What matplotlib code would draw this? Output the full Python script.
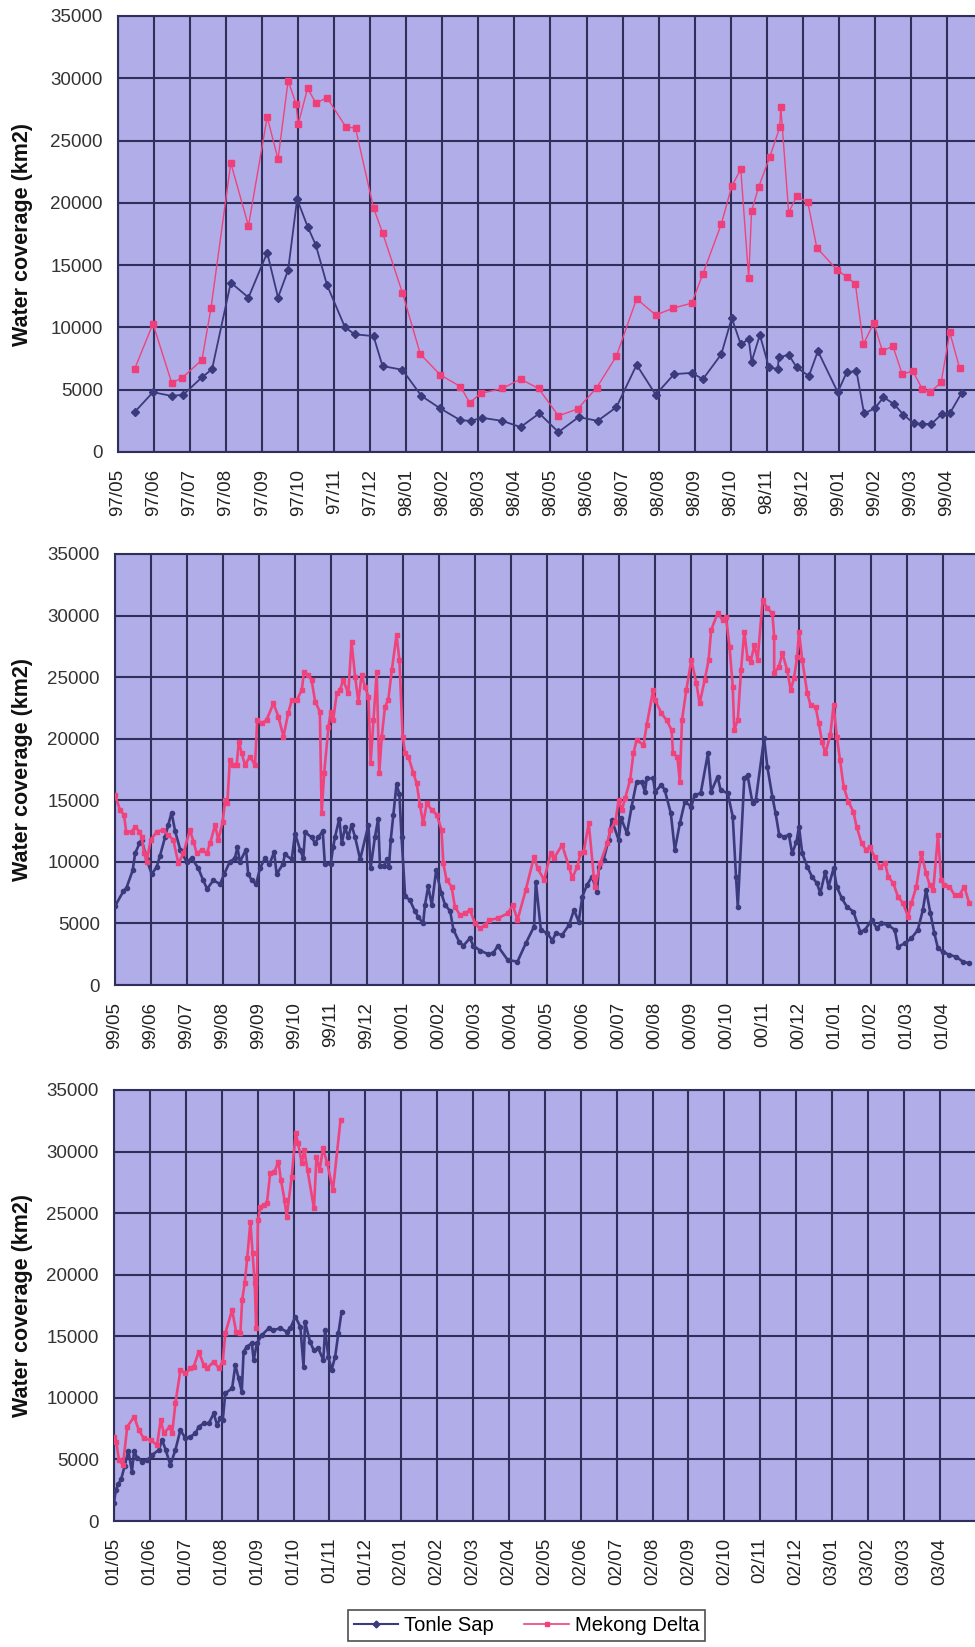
import matplotlib
matplotlib.use("Agg")
import matplotlib.pyplot as plt
from matplotlib.lines import Line2D
import numpy as np

# x positions are months counted from the first tick of each panel
# panel 1: 97/05 - 99/04
ts1_x = [0.46, 0.97, 1.49, 1.81, 2.33, 2.61, 3.13, 3.62, 4.14, 4.44,
         4.72, 4.97, 5.26, 5.49, 5.80, 6.30, 6.57, 7.09, 7.34, 7.89,
         8.42, 8.94, 9.50, 9.79, 10.09, 10.66, 11.17, 11.69, 12.22, 12.78,
         13.31, 13.83, 14.39, 14.92, 15.43, 15.92, 16.23, 16.74, 17.03, 17.28,
         17.5, 17.58, 17.81, 18.06, 18.31, 18.33, 18.61, 18.83, 19.17, 19.42,
         19.97, 20.22, 20.49, 20.70, 21.0, 21.24, 21.53, 21.79, 22.08, 22.32,
         22.57, 22.86, 23.08, 23.41]
ts1_y = [3200, 4800, 4500, 4600, 6000, 6650, 13600, 12400, 16000, 12400,
         14600, 20300, 18100, 16600, 13400, 10000, 9450, 9300, 6900, 6600,
         4500, 3500, 2550, 2500, 2750, 2500, 2000, 3100, 1600, 2800,
         2500, 3600, 7000, 4600, 6250, 6350, 5850, 7850, 10750, 8650,
         9050, 7250, 9400, 6800, 6650, 7600, 7800, 6800, 6100, 8100,
         4800, 6400, 6500, 3100, 3500, 4400, 3850, 3000, 2300, 2250,
         2250, 3050, 3100, 4750]
md1_x = [0.46, 0.97, 1.49, 1.78, 2.33, 2.58, 3.13, 3.62, 4.14, 4.44,
         4.72, 4.94, 5.0, 5.26, 5.49, 5.80, 6.32, 6.59, 7.09, 7.34,
         7.89, 8.39, 8.94, 9.50, 9.76, 10.06, 10.66, 11.17, 11.67, 12.22,
         12.75, 13.28, 13.83, 14.39, 14.92, 15.41, 15.92, 16.23, 16.74, 17.03,
         17.28, 17.5, 17.58, 17.78, 18.08, 18.36, 18.39, 18.61, 18.83, 19.14,
         19.39, 19.94, 20.22, 20.46, 20.68, 20.97, 21.21, 21.50, 21.76, 22.05,
         22.32, 22.54, 22.84, 23.08, 23.35]
md1_y = [6650, 10300, 5550, 5950, 7400, 11550, 23200, 18150, 26900, 23500,
         29800, 27950, 26300, 29200, 28000, 28450, 26100, 26000, 19600, 17600,
         12800, 7850, 6200, 5250, 3950, 4700, 5100, 5850, 5100, 2900,
         3450, 5150, 7700, 12300, 11000, 11550, 11950, 14300, 18300, 21350,
         22700, 13950, 19350, 21300, 23650, 26050, 27700, 19200, 20550, 20050,
         16400, 14650, 14050, 13500, 8650, 10350, 8100, 8500, 6250, 6500,
         5050, 4800, 5600, 9600, 6750]

# panel 2: 99/05 - 01/04
ts2_x = [0.00, 0.23, 0.32, 0.49, 0.56, 0.68, 0.74, 0.88, 1.02, 1.16, 1.25, 1.39, 1.48, 1.57, 1.67,
         1.81, 1.99, 2.13, 2.31, 2.45, 2.56, 2.73, 2.92, 3.03, 3.19, 3.33, 3.40, 3.47, 3.64, 3.70,
         3.80, 3.92, 4.03, 4.17, 4.29, 4.42, 4.49, 4.66, 4.72, 4.91, 5.00, 5.14, 5.23, 5.28, 5.46,
         5.56, 5.65, 5.77, 5.83, 5.99, 6.06, 6.11, 6.23, 6.30, 6.39, 6.48, 6.57, 6.67, 6.81, 7.04,
         7.10, 7.22, 7.31, 7.36, 7.47, 7.55, 7.61, 7.66, 7.73, 7.82, 7.90, 7.96, 8.06, 8.19, 8.33,
         8.43, 8.56, 8.61, 8.70, 8.80, 8.92, 9.06, 9.17, 9.31, 9.40, 9.56, 9.68, 9.86, 9.95, 10.14,
         10.37, 10.51, 10.63, 10.91, 11.18, 11.41, 11.64, 11.69, 11.83, 12.01, 12.15, 12.24, 12.42,
         12.61, 12.75, 12.88, 12.98, 13.11, 13.25, 13.39, 13.44, 13.57, 13.71, 13.80, 13.99, 14.06,
         14.22, 14.35, 14.49, 14.63, 14.72, 14.77, 14.95, 15.00, 15.18, 15.27, 15.44, 15.55, 15.69,
         15.83, 16.01, 16.10, 16.27, 16.47, 16.56, 16.74, 16.82, 17.02, 17.16, 17.25, 17.30, 17.48,
         17.57, 17.71, 17.80, 18.03, 18.12, 18.26, 18.35, 18.45, 18.58, 18.72, 18.81, 18.93, 19.00,
         19.09, 19.23, 19.36, 19.50, 19.59, 19.73, 19.82, 19.96, 20.05, 20.19, 20.33, 20.51, 20.70,
         20.83, 21.02, 21.16, 21.29, 21.48, 21.66, 21.75, 21.94, 22.12, 22.30, 22.44, 22.53, 22.65,
         22.76, 22.86, 22.99, 23.18, 23.36, 23.55, 23.73]
ts2_y = [6400, 7600, 7900, 9300, 10700, 11500, 11800, 10200, 9000, 9600, 10500, 12000, 13000, 14000, 12500,
         11000, 10000, 10300, 9500, 8500, 7800, 8500, 8200, 9000, 10000, 10300, 11200, 10000, 11000, 9000,
         8500, 8200, 9500, 10300, 9800, 10800, 9000, 9800, 10600, 10200, 12300, 11000, 10300, 12400, 12000,
         11500, 12000, 12500, 9800, 9800, 11200, 12000, 13500, 11500, 12800, 12000, 13000, 12000, 10200, 13000,
         9500, 12000, 13500, 9700, 9700, 10200, 9600, 11800, 13800, 16300, 15500, 12000, 7200, 6900, 6000,
         5500, 5000, 6500, 8000, 6500, 9300, 7500, 6500, 6000, 4500, 3500, 3200, 3800, 3200, 2800,
         2500, 2600, 3170, 2030, 1900, 3380, 4740, 8390, 4470, 4200, 3600, 4200, 4060,
         4870, 6090, 5140, 7170, 8120, 8800, 7580, 9610, 10150, 11780, 13400, 11780, 13540,
         12320, 14480, 16510, 16510, 15700, 16780, 16780, 15700, 16240, 15840, 13940, 10960, 13130,
         14890, 14480, 15430, 15570, 18810, 15700, 16920, 15840, 15570, 13670, 8800, 6360, 16780,
         17050, 14750, 15020, 20030, 17730, 15290, 13940, 12180, 12050, 12180, 10690, 11640, 12860,
         10690, 9610, 8800, 8260, 7440, 9200, 7980, 9470, 7980, 7040, 6360, 5960, 4330,
         4470, 5280, 4600, 5010, 4870, 4470, 3110, 3380, 3790, 4470, 6090, 7710, 5820,
         4200, 2980, 2710, 2440, 2300, 1900, 1760]
md2_x = [0.00, 0.14, 0.25, 0.31, 0.46, 0.56, 0.68, 0.74, 0.81, 0.88, 0.99, 1.16, 1.34, 1.48, 1.62,
         1.76, 1.90, 2.08, 2.18, 2.27, 2.41, 2.55, 2.64, 2.78, 2.87, 2.99, 3.06, 3.12, 3.19, 3.29,
         3.38, 3.44, 3.52, 3.61, 3.75, 3.89, 3.95, 4.07, 4.21, 4.40, 4.54, 4.68, 4.81, 4.91, 5.05,
         5.19, 5.25, 5.37, 5.46, 5.56, 5.69, 5.74, 5.81, 5.93, 5.99, 6.06, 6.16, 6.25, 6.34, 6.48,
         6.57, 6.67, 6.76, 6.85, 6.94, 7.04, 7.10, 7.18, 7.27, 7.34, 7.41, 7.50, 7.59, 7.69, 7.82,
         7.90, 7.99, 8.06, 8.15, 8.29, 8.38, 8.47, 8.56, 8.66, 8.80, 8.94, 9.07, 9.12, 9.21, 9.35,
         9.44, 9.58, 9.72, 9.86, 10.00, 10.14, 10.28,
         10.40, 10.63, 10.91, 11.05, 11.18, 11.41, 11.64, 11.74, 11.92, 12.10, 12.19, 12.42, 12.61,
         12.70, 12.84, 12.93, 13.02, 13.16, 13.30, 13.34, 13.48, 13.67, 13.76, 13.90, 13.99, 14.08,
         14.17, 14.31, 14.40, 14.49, 14.68, 14.77, 14.95, 15.00, 15.18, 15.32, 15.46, 15.50, 15.62,
         15.69, 15.75, 15.87, 16.01, 16.15, 16.24, 16.38, 16.49, 16.56, 16.74, 16.88, 16.97, 17.07,
         17.16, 17.20, 17.30, 17.39, 17.48, 17.57, 17.66, 17.76, 17.85, 17.99, 18.12, 18.26, 18.31,
         18.31, 18.44, 18.54, 18.67, 18.77, 18.86, 18.95, 19.00, 19.09, 19.23, 19.32, 19.46, 19.55,
         19.64, 19.73, 19.87, 19.96, 20.05, 20.14, 20.24, 20.37, 20.51, 20.60, 20.74, 20.87, 20.96,
         21.10, 21.24, 21.39, 21.48, 21.62, 21.75, 21.89, 22.03, 22.12, 22.26, 22.40, 22.53, 22.63,
         22.73, 22.86, 22.95, 23.04, 23.18, 23.32, 23.46, 23.59, 23.73]
md2_y = [15430, 14210, 13800, 12450, 12450, 12860, 12450, 12050, 10690, 10020, 11780, 12450, 12590, 12180, 11780,
         9880, 10690, 12590, 11640, 10690, 10960, 10690, 11500, 12990, 11780, 13260, 15020, 14750, 18270, 17870,
         17870, 19760, 18810, 17870, 18540, 17870, 21520, 21250, 21520, 22870, 21790, 20170, 22060, 23140, 23140,
         23960, 25450, 25180, 24770, 23010, 22200, 13940, 17190, 20980, 22200, 21520, 23690, 23960, 24770, 23690,
         27880, 25040, 23010, 25180, 24230, 23420, 18000, 21520, 25450, 17190, 20170, 22600, 23140, 25580, 28420,
         26390, 20170, 18810, 18540, 17190, 16380, 14620, 13130, 14750, 14210, 13800, 12590, 9880, 8530, 7990,
         6360, 5690, 5820, 6090, 5010, 4600, 4870,
         5280, 5410, 5820, 6500, 5280, 7710, 10420, 9470, 8530, 10690, 10290, 11370, 9610,
         8660, 9610, 10690, 10830, 13130, 8800, 7990, 9880, 11500, 12590, 13260, 15020, 14210,
         15160, 16650, 18810, 19900, 19490, 21110, 23960, 23140, 22060, 21520, 20710, 18810, 18540,
         16510, 21520, 23960, 26390, 24500, 22870, 24770, 26390, 28830, 30180, 29640, 29910, 27480,
         24230, 20710, 21520, 25580, 28690, 26520, 26260, 27610, 26390, 31270, 30590, 30180, 28290,
         25310, 25850, 26930, 25580, 23960, 24910, 26660, 28690, 26390, 23690, 22740, 22600, 21250,
         19760, 18810, 20300, 22740, 20170, 18270, 16110, 14890, 14080, 12860, 11500, 10960, 11230,
         10420, 9610, 9880, 8800, 8260, 7170, 6630, 5550, 6630, 7990, 10690, 9070, 8120,
         7710, 12180, 8530, 8120, 7990, 7310, 7310, 7990, 6630]

# panel 3: 01/05 - 03/04
ts3_x = [0, 0.05, 0.12, 0.2, 0.3, 0.4, 0.5, 0.56, 0.65, 0.79,
         0.93, 1.06, 1.25, 1.34, 1.44, 1.57, 1.71, 1.85, 1.99, 2.13,
         2.27, 2.36, 2.50, 2.64, 2.78, 2.87, 2.96, 3.03, 3.10, 3.29,
         3.38, 3.47, 3.56, 3.61, 3.70, 3.84, 3.89, 3.98, 4.12, 4.31,
         4.44, 4.63, 4.81, 4.91, 5.05, 5.19, 5.28, 5.32, 5.46, 5.56,
         5.69, 5.83, 5.88, 5.97, 6.06, 6.16, 6.25, 6.34]
ts3_y = [1500, 2500, 3000, 3400, 4500, 5700, 4000, 5700, 5090, 4820,
         4950, 5360, 5770, 6580, 5770, 4550, 5770, 7390, 6710, 6850,
         7120, 7660, 7930, 7930, 8740, 7800, 8340, 8200, 10370, 10770,
         12670, 11590, 10500, 13750, 14160, 14430, 13070, 14430, 15100, 15650,
         15510, 15650, 15380, 15650, 16590, 15780, 12530, 16190, 14560, 13890,
         14020, 13070, 15510, 13340, 12260, 13340, 15240, 17000]
md3_x = [0, 0.06, 0.14, 0.25, 0.37, 0.56, 0.69, 0.83, 1.02, 1.20,
         1.30, 1.39, 1.55, 1.62, 1.71, 1.85, 1.99, 2.13, 2.22, 2.36,
         2.50, 2.59, 2.78, 2.92, 3.03, 3.10, 3.29, 3.40, 3.52, 3.57,
         3.64, 3.71, 3.80, 3.86, 3.92, 3.96, 4.01, 4.08, 4.17, 4.26,
         4.35, 4.47, 4.58, 4.65, 4.75, 4.81, 4.95, 5.06, 5.13, 5.23,
         5.30, 5.39, 5.57, 5.64, 5.73, 5.82, 5.94, 6.10, 6.31]
md3_y = [6850, 6440, 4950, 4550, 7660, 8470, 7390, 6710, 6580, 6170,
         8200, 7120, 7660, 7120, 9560, 12260, 11990, 12400, 12530, 13750,
         12670, 12400, 12940, 12400, 12940, 15240, 17140, 15380, 15240, 17950,
         19300, 21330, 24310, 21740, 19300, 15650, 24440, 25530, 25660, 25800,
         28230, 28370, 29180, 27690, 26070, 24720, 27960, 31480, 30670, 29050,
         30130, 28500, 25390, 29590, 28500, 30260, 29050, 26880, 32570]

# first tick (year, month) of each panel
panel_start = [(97, 5), (99, 5), (1, 5)]

BG = '#b1ade8'
GRID = '#302e5a'
NAVY = '#3b3a7c'
PINK = '#f0437c'

def month_labels(y0, m0, n=24):
    labels = []
    for i in range(n):
        m = (m0 - 1 + i) % 12 + 1
        y = (y0 + (m0 - 1 + i) // 12) % 100
        labels.append("{:02d}/{:02d}".format(y, m))
    return labels

W, H = 975, 1647
fig = plt.figure(figsize=(W / 100, H / 100), dpi=100)

# axes boxes in pixels: left, top, bottom, spacing of one month
boxes = [(118, 16, 452, 36.04), (115, 554, 985, 36.0), (114, 1090, 1521, 35.9)]
series = [(ts1_x, ts1_y, md1_x, md1_y), (ts2_x, ts2_y, md2_x, md2_y), (ts3_x, ts3_y, md3_x, md3_y)]

for k in range(3):
    left, top, bottom, step = boxes[k]
    ax = fig.add_axes([left / W, 1 - bottom / H, 1 - left / W, (bottom - top) / H])
    ax.set_facecolor(BG)
    tx, ty, mx, my = series[k]
    if k == 0:
        ax.plot(tx, ty, color=NAVY, lw=1.3, marker='D', ms=3.6, zorder=3)
        ax.plot(mx, my, color=PINK, lw=1.0, marker='s', ms=4.2, mfc='#ee3f7a', mec='#ee3f7a', zorder=3)
    else:
        ax.plot(tx, ty, color=NAVY, lw=1.9, marker='o', ms=3.0, zorder=3)
        ax.plot(mx, my, color=PINK, lw=1.9, marker='s', ms=2.6, zorder=3)
    ax.set_xlim(0, (W - left) / step)
    ax.set_ylim(0, 35000)
    ax.set_xticks(range(24))
    ax.set_xticklabels(month_labels(*panel_start[k]), rotation=90,
                       fontsize=13.5, family='Liberation Sans', color='#222222')
    ax.set_yticks(range(0, 35001, 5000))
    ax.set_yticklabels([str(v) for v in range(0, 35001, 5000)],
                       fontsize=13.5, family='Liberation Sans', color='#333333')
    ax.tick_params(axis='both', length=0)
    ax.tick_params(axis='y', pad=11)
    ax.tick_params(axis='x', pad=12)
    ax.grid(True, color=GRID, lw=1.5)
    ax.set_axisbelow(True)
    for side in ['left', 'bottom', 'top']:
        ax.spines[side].set_color(GRID)
        ax.spines[side].set_linewidth(1.5)
    ax.spines['right'].set_visible(False)
    fig.text(23 / W, 1 - (top + bottom) / 2 / H, "Water coverage (km2)", rotation=90,
             ha='center', va='center', fontsize=15.5, fontweight='bold',
             family='Liberation Sans', color='#111111')

handles = [Line2D([], [], color=NAVY, lw=1.5, marker='D', ms=3.5),
           Line2D([], [], color=PINK, lw=1.2, marker='s', ms=3.5)]
leg = fig.legend(handles, ["Tonle Sap", "Mekong Delta"], loc='upper left',
                 bbox_to_anchor=(348 / W, 1 - 1610 / H), ncol=2, frameon=True,
                 fancybox=False, handlelength=2.2, columnspacing=1.5,
                 handletextpad=0.3, borderpad=0.3, borderaxespad=0,
                 prop={'family': 'Liberation Sans', 'size': 14.5})
leg.get_frame().set_edgecolor('#222222')
leg.get_frame().set_linewidth(1.2)

fig.savefig("out.png", dpi=100)
